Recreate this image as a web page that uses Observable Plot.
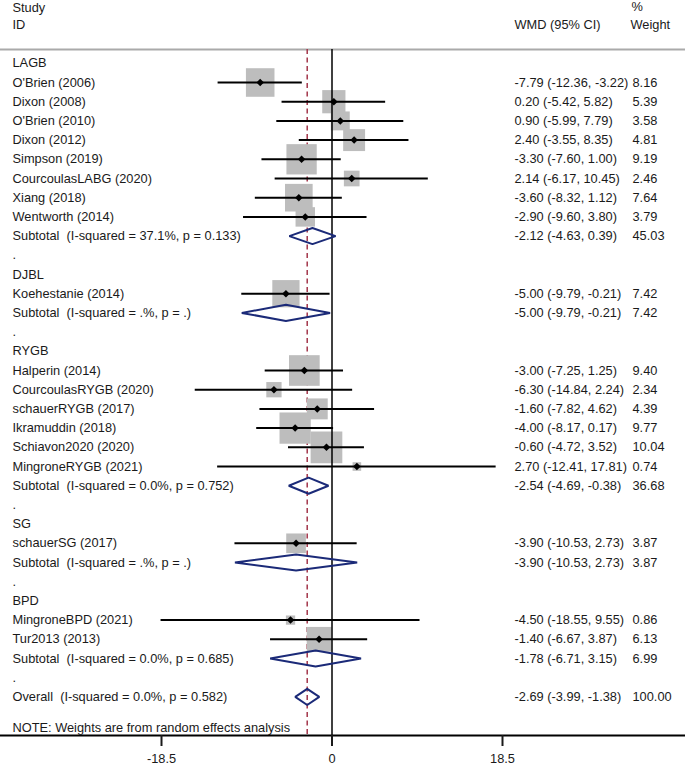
<!DOCTYPE html>
<html><head><meta charset="utf-8">
<script src="https://cdn.jsdelivr.net/npm/d3@7"></script>
<script src="https://cdn.jsdelivr.net/npm/@observablehq/plot@0.6"></script>
<style>
html,body{margin:0;padding:0;background:#fff;}
</style></head><body><div id="chart"></div>
<script>
// ---- data ----
const groupNames = ["LAGB", "DJBL", "RYGB", "SG", "BPD"];
const studyLabels = ["O'Brien (2006)", "Dixon (2008)", "O'Brien (2010)", "Dixon (2012)", "Simpson (2019)", "CourcoulasLABG (2020)", "Xiang (2018)", "Wentworth (2014)", "Koehestanie (2014)", "Halperin (2014)", "CourcoulasRYGB (2020)", "schauerRYGB (2017)", "Ikramuddin (2018)", "Schiavon2020 (2020)", "MingroneRYGB (2021)", "schauerSG (2017)", "MingroneBPD (2021)", "Tur2013 (2013)"];
const studyGroup = ["LAGB", "LAGB", "LAGB", "LAGB", "LAGB", "LAGB", "LAGB", "LAGB", "DJBL", "RYGB", "RYGB", "RYGB", "RYGB", "RYGB", "RYGB", "SG", "BPD", "BPD"];
const studyEst = [-7.79, 0.20, 0.90, 2.40, -3.30, 2.14, -3.60, -2.90, -5.00, -3.00, -6.30, -1.60, -4.00, -0.60, 2.70, -3.90, -4.50, -1.40];
const studyLo = [-12.36, -5.42, -5.99, -3.55, -7.60, -6.17, -8.32, -9.60, -9.79, -7.25, -14.84, -7.82, -8.17, -4.72, -12.41, -10.53, -18.55, -6.67];
const studyHi = [-3.22, 5.82, 7.79, 8.35, 1.00, 10.45, 1.12, 3.80, -0.21, 1.25, 2.24, 4.62, 0.17, 3.52, 17.81, 2.73, 9.55, 3.87];
const studyWeight = [8.16, 5.39, 3.58, 4.81, 9.19, 2.46, 7.64, 3.79, 7.42, 9.40, 2.34, 4.39, 9.77, 10.04, 0.74, 3.87, 0.86, 6.13];
const subI2 = ["37.1%", ".%", "0.0%", ".%", "0.0%"];
const subP = ["0.133", ".", "0.752", ".", "0.685"];
const subEst = [-2.12, -5.00, -2.54, -3.90, -1.78];
const subLo = [-4.63, -9.79, -4.69, -10.53, -6.71];
const subHi = [0.39, -0.21, -0.38, 2.73, 3.15];
const subWeight = [45.03, 7.42, 36.68, 3.87, 6.99];
const overallEst = -2.69, overallLo = -3.99, overallHi = -1.38, overallWeight = 100.00;
const overallI2 = "0.0%", overallP = "0.582";
const headerTop = ["Study", "%"];
const headerBottom = ["ID", "WMD (95% CI)", "Weight"];
const noteText = "NOTE: Weights are from random effects analysis";
const xTicks = [-18.5, 0, 18.5];

// ---- build rows ----
const rows = [];
let r = 0;
groupNames.forEach((g, gi) => {
  rows.push({row: r++, kind: "group", label: g});
  studyLabels.forEach((s, i) => {
    if (studyGroup[i] === g) rows.push({row: r++, kind: "study", label: s, est: studyEst[i], lo: studyLo[i], hi: studyHi[i], w: studyWeight[i]});
  });
  rows.push({row: r++, kind: "sub", label: `Subtotal\u00a0 (I-squared = ${subI2[gi]}, p = ${subP[gi]})`, est: subEst[gi], lo: subLo[gi], hi: subHi[gi], w: subWeight[gi]});
  rows.push({row: r++, kind: "blank", label: "."});
});
rows.push({row: r++, kind: "overall", label: `Overall\u00a0 (I-squared = ${overallI2}, p = ${overallP})`, est: overallEst, lo: overallLo, hi: overallHi, w: overallWeight});

const studies = rows.filter(d => d.kind === "study");
const pooled = rows.filter(d => d.kind === "sub" || d.kind === "overall");
const withEst = rows.filter(d => d.est != null);
const fmt = v => v.toFixed(2);

const H = 0.42; // diamond half height (rows)
const diamondPts = pooled.flatMap((d, i) => [
  {x: d.lo, y: d.row, z: i},
  {x: d.est, y: d.row - H, z: i},
  {x: d.hi, y: d.row, z: i},
  {x: d.est, y: d.row + H, z: i}
]);

const W = 685, HT = 765, mTop = 49, mBottom = 30;
const zeroPx = 331.5, pxPerUnit = 9.216, rowPx = 19.2, firstRowPx = 13.8;
const xDomain = [-zeroPx / pxPerUnit, (W - zeroPx) / pxPerUnit];
const yDomain = [-firstRowPx / rowPx, -firstRowPx / rowPx + (HT - mTop - mBottom) / rowPx];
const maxW = d3.max(studyWeight);
const txt = "#1a1a1a";
const fs = 12.8;

const chart = Plot.plot({
  width: W, height: HT,
  marginTop: mTop, marginBottom: mBottom, marginLeft: 0, marginRight: 0,
  style: {fontFamily: "'Liberation Sans', Arial, sans-serif", fontSize: fs + "px", color: txt, background: "#fff"},
  x: {domain: xDomain},
  y: {domain: yDomain, reverse: true, axis: null},
  r: {type: "sqrt", domain: [0, maxW], range: [0, 10 * Math.sqrt(maxW) / Math.sqrt(Math.PI)]},
  marks: [
    Plot.frame({anchor: "top", stroke: "#aaaaaa", strokeWidth: 2}),
    Plot.ruleX([overallEst], {stroke: "#a3364a", strokeWidth: 1.5, strokeDasharray: "5,3.5"}),
    Plot.dot(studies, {x: "est", y: "row", r: "w", symbol: "square", fill: "#bdbdbd", stroke: null}),
    Plot.ruleX([0], {stroke: "#000", strokeWidth: 1.5}),
    Plot.ruleY(studies, {y: "row", x1: "lo", x2: "hi", stroke: "#000", strokeWidth: 2}),
    Plot.dot(studies, {x: "est", y: "row", r: 3.4, symbol: "diamond2", fill: "#000", stroke: null}),
    Plot.line(diamondPts, {x: "x", y: "y", z: "z", curve: "linear-closed", stroke: "#1b2a78", strokeWidth: 2, fill: "none", strokeLinejoin: "miter"}),
    Plot.frame({anchor: "bottom", stroke: "#000", strokeWidth: 2}),
    Plot.axisX(xTicks, {anchor: "bottom", tickSize: 11, tickPadding: 7, strokeWidth: 2, tickFormat: d => String(d), label: null, fontSize: fs}),
    // left labels
    Plot.text(rows, {y: "row", text: "label", frameAnchor: "left", dx: 12, textAnchor: "start", fill: txt, fontSize: fs}),
    // estimate text
    Plot.text(withEst, {y: "row", text: d => `${fmt(d.est)} (${fmt(d.lo)}, ${fmt(d.hi)})`, frameAnchor: "left", dx: 514, textAnchor: "start", fill: txt, fontSize: fs}),
    Plot.text(withEst, {y: "row", text: d => fmt(d.w), frameAnchor: "left", dx: 632, textAnchor: "start", fill: txt, fontSize: fs}),
    // headers
    Plot.text([headerTop[0]], {text: d => d, frameAnchor: "top-left", dx: 12, dy: -42, lineAnchor: "middle", textAnchor: "start", fill: txt, fontSize: fs}),
    Plot.text([headerTop[1]], {text: d => d, frameAnchor: "top-left", dx: 631, dy: -43, lineAnchor: "middle", textAnchor: "start", fill: txt, fontSize: fs}),
    Plot.text([headerBottom[0]], {text: d => d, frameAnchor: "top-left", dx: 12, dy: -25, lineAnchor: "middle", textAnchor: "start", fill: txt, fontSize: fs}),
    Plot.text([headerBottom[1]], {text: d => d, frameAnchor: "top-left", dx: 514, dy: -25, lineAnchor: "middle", textAnchor: "start", fill: txt, fontSize: fs}),
    Plot.text([headerBottom[2]], {text: d => d, frameAnchor: "top-left", dx: 630, dy: -25, lineAnchor: "middle", textAnchor: "start", fill: txt, fontSize: fs}),
    // note
    Plot.text([noteText], {text: d => d, frameAnchor: "bottom-left", dx: 12, dy: -8, lineAnchor: "middle", textAnchor: "start", fill: txt, fontSize: fs})
  ]
});
document.getElementById("chart").appendChild(chart);
</script>
</body></html>
